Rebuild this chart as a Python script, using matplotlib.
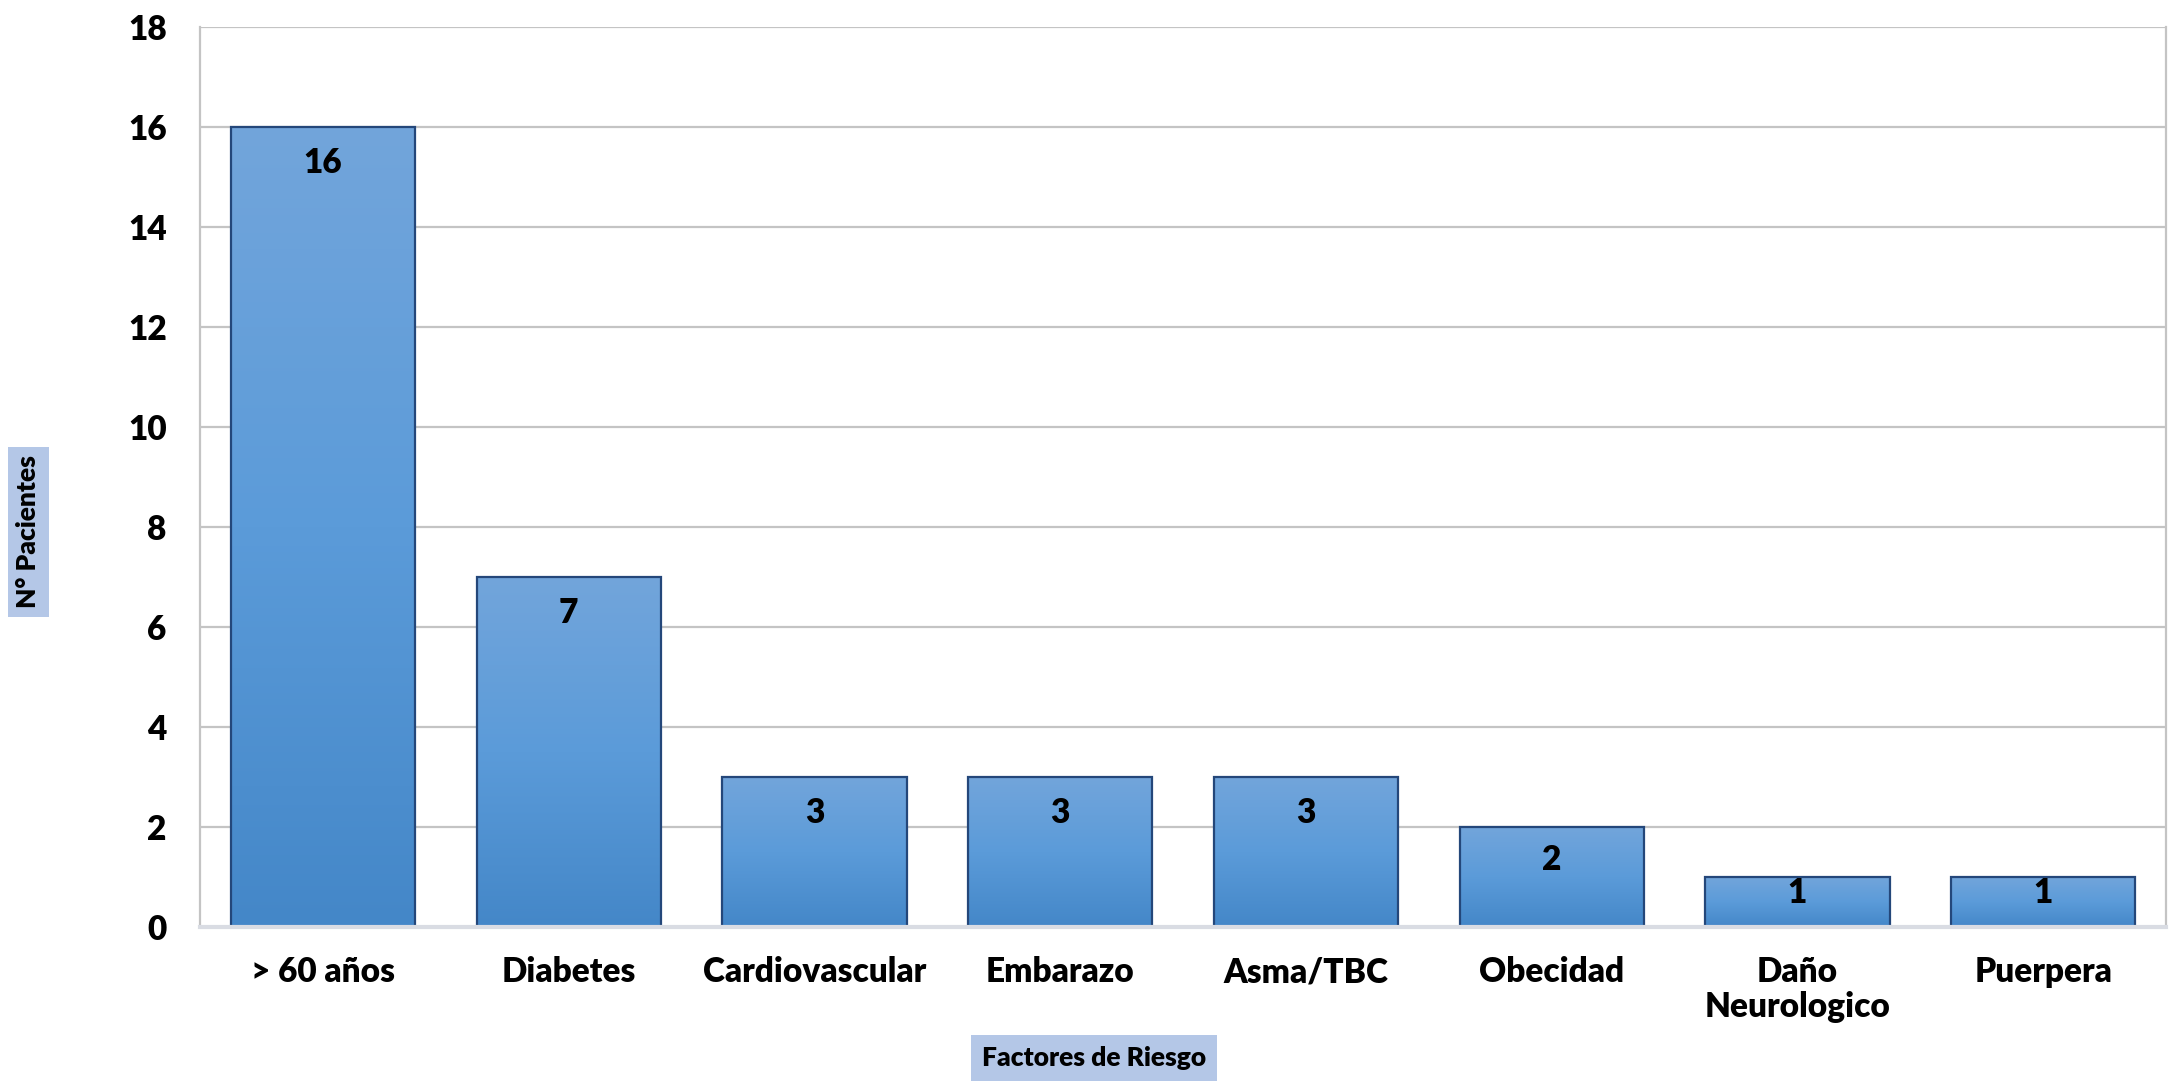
import numpy as np
import matplotlib
matplotlib.use("Agg")
import matplotlib.pyplot as plt
from matplotlib.colors import LinearSegmentedColormap

categorias = ["> 60 años", "Diabetes", "Cardiovascular", "Embarazo",
              "Asma/TBC", "Obecidad", "Daño\nNeurologico", "Puerpera"]
pacientes = [16, 7, 3, 3, 3, 2, 1, 1]
y_ticks = [0, 2, 4, 6, 8, 10, 12, 14, 16, 18]

plt.rcParams['font.family'] = ['Lato', 'DejaVu Sans']
plt.rcParams['font.weight'] = 'bold'

fig = plt.figure(figsize=(21.77, 10.81), dpi=100)
ax = fig.add_axes([0.0919, 0.1425, 0.9031, 0.8325])

x = np.arange(len(categorias))
bars = ax.bar(x, pacientes, width=0.75, color='none', edgecolor='#24477a',
              linewidth=1.6, zorder=3)

# degradado vertical dentro de cada barra
cmap = LinearSegmentedColormap.from_list('azul', ['#4487c8', '#5b9bd9', '#72a5db'])
grad = np.linspace(0, 1, 256).reshape(-1, 1)
for b in bars:
    x0, w, h = b.get_x(), b.get_width(), b.get_height()
    im = ax.imshow(grad, cmap=cmap, origin='lower', aspect='auto',
                   extent=(x0, x0 + w, 0, h), zorder=2)
    im.set_clip_path(b)

ax.set_xlim(-0.5, len(categorias) - 0.5)
ax.set_ylim(0, 18)

# etiquetas dentro del extremo de la barra (mas arriba si la barra es baja)
pts_por_unidad = ax.get_position().height * fig.get_figheight() * 72 / 18
for xi, v in zip(x, pacientes):
    off = min(26, 0.33 * v * pts_por_unidad)
    ax.annotate(str(v), (xi, v), xytext=(0, -off), textcoords='offset points',
                ha='center', va='center', fontsize=24, fontweight='heavy', zorder=4)

ax.set_yticks(y_ticks)
ax.set_xticks(x)
ax.set_xticklabels(categorias, fontsize=24, fontweight='heavy', linespacing=1.1)
for t in ax.get_yticklabels():
    t.set_fontweight('heavy')
ax.tick_params(axis='y', labelsize=24, length=0, pad=24)
ax.tick_params(axis='x', length=0, pad=21)

ax.grid(axis='y', color='#c4c4c4', linewidth=1.6, zorder=0)
ax.set_axisbelow(True)
for s in ['left', 'right']:
    ax.spines[s].set_color('#c4c4c4')
    ax.spines[s].set_linewidth(1.6)
ax.spines['top'].set_visible(False)
ax.spines['bottom'].set_color('#d9dce3')
ax.spines['bottom'].set_linewidth(3)
ax.spines['bottom'].set_zorder(5)

fig.text(0.0129, 0.508, "N° Pacientes", rotation=90, ha='center', va='center',
         fontsize=19, fontweight='heavy',
         bbox=dict(facecolor='#b4c7e7', edgecolor='none', pad=6))
fig.text(0.5025, 0.0213, "Factores de Riesgo", ha='center', va='center',
         fontsize=19, fontweight='heavy',
         bbox=dict(facecolor='#b4c7e7', edgecolor='none', pad=8))

fig.savefig("out.png", dpi=100, facecolor='white')
